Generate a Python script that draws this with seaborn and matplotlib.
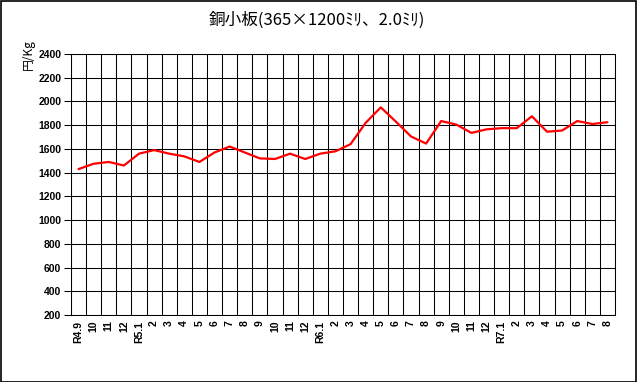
import matplotlib
matplotlib.use("Agg")
import matplotlib.pyplot as plt
import seaborn as sns
import pandas as pd
import numpy as np
from matplotlib.patches import Rectangle

months = ["R4.9", "10", "11", "12",
          "R5.1", "2", "3", "4", "5", "6", "7", "8", "9", "10", "11", "12",
          "R6.1", "2", "3", "4", "5", "6", "7", "8", "9", "10", "11", "12",
          "R7.1", "2", "3", "4", "5", "6", "7", "8"]
prices = [1430, 1475, 1490, 1460,
          1560, 1590, 1560, 1537, 1490, 1570, 1620, 1570, 1520, 1515, 1560, 1515,
          1560, 1580, 1640, 1820, 1950, 1830, 1705, 1645, 1835, 1805, 1735, 1765,
          1775, 1775, 1875, 1745, 1755, 1835, 1810, 1825]
y_ticks = [200, 400, 600, 800, 1000, 1200, 1400, 1600, 1800, 2000, 2200, 2400]
title = "銅小板(365×1200ﾐﾘ、2.0ﾐﾘ)"
ylabel = "円/Kg"

sns.set_theme(style="white")
plt.rcParams['font.family'] = ['Liberation Sans', 'Noto Sans CJK JP', 'DejaVu Sans']
plt.rcParams['text.color'] = 'black'
plt.rcParams['xtick.color'] = 'black'
plt.rcParams['ytick.color'] = 'black'

df = pd.DataFrame({"pos": np.arange(len(months)), "price": prices})

fig = plt.figure(figsize=(6.37, 3.82), dpi=100)
fig.patch.set_facecolor("white")
ax = fig.add_axes([71/637, 1-315/382, (615-71)/637, (315-54)/382])

sns.lineplot(data=df, x="pos", y="price", ax=ax, color="#FF0000", linewidth=1.6, zorder=3)

ax.set_xlim(-0.5, len(months)-0.5)
ax.set_ylim(200, 2400)
ax.set_yticks(y_ticks)
ax.set_yticklabels([str(v) for v in y_ticks], fontsize=7.5, fontweight="bold", color="black")
ax.set_xticks(np.arange(len(months)))
ax.set_xticklabels(months, rotation=90, fontsize=7.5, fontweight="bold", color="black")
ax.set_xticks(np.arange(len(months)+1)-0.5, minor=True)
ax.grid(False)
ax.grid(True, which="minor", axis="x", color="black", linewidth=0.75)
ax.grid(True, which="major", axis="y", color="black", linewidth=0.75)
ax.tick_params(axis="y", which="major", length=5, width=0.75, color="black", pad=2, direction="out", left=True)
ax.tick_params(axis="x", which="both", length=0, pad=4)
for s in ax.spines.values():
    s.set_color("black")
    s.set_linewidth(0.75)
ax.set_xlabel("")
ax.set_ylabel("")

fig.text(0.497, 1-20/382, title, ha="center", va="center", fontsize=12, color="black",
         family=['Noto Sans CJK JP', 'DejaVu Sans'])
fig.text(28/637, 1-55/382, ylabel, ha="center", va="center", rotation=90, fontsize=8.5, color="black",
         family=['Noto Sans CJK JP', 'DejaVu Sans'])

fig.patches.append(Rectangle((0.5/637, 0.5/382), 1-1.5/637, 1-1.5/382, transform=fig.transFigure,
                             fill=False, edgecolor="black", linewidth=1.2))

fig.savefig("out.png", dpi=100)
